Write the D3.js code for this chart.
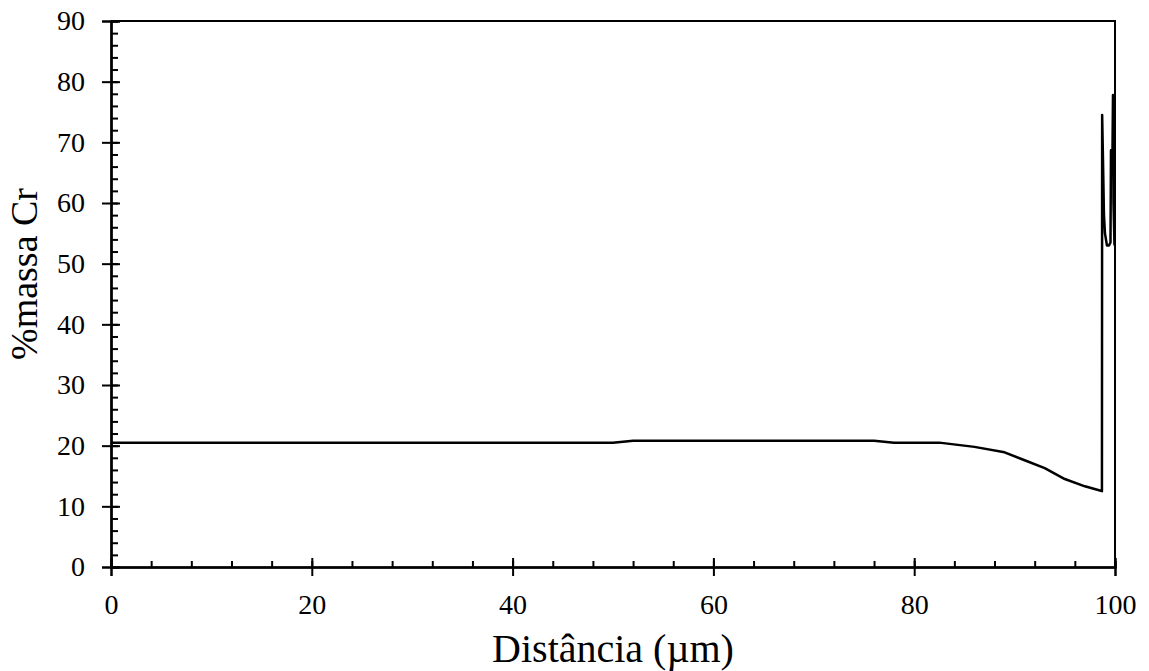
<!DOCTYPE html>
<html>
<head>
<meta charset="utf-8">
<script src="https://cdn.jsdelivr.net/npm/d3@7"></script>
<style>
	body { margin:0; background:#fff; }
</style>
</head>
<body>
<svg id="svg" width="1149" height="671"></svg>
<script>
// distance (um) and Cr mass %
const distancia = [0, 50, 52, 54, 76, 78, 82.5, 86, 89, 91, 93, 95, 97, 98.5, 98.7,
	98.72, 98.8, 98.9, 99.0, 99.2, 99.4, 99.55, 99.6, 99.75, 99.8, 99.85, 99.95];
const crMassa = [20.5, 20.5, 20.8, 20.8, 20.8, 20.5, 20.5, 19.8, 18.9, 17.6, 16.3, 14.5, 13.3, 12.6, 12.5,
	74.5, 67.5, 58, 55, 53, 53, 53.5, 68.7, 68.7, 77.8, 60, 53];
const xTicks = [0, 20, 40, 60, 80, 100];
const yTicks = [0, 10, 20, 30, 40, 50, 60, 70, 80, 90];

const dims = { width: 1149, height: 671 };
const margins = { left: 111, right: 34, top: 21, bottom: 104 };
const serif = '"Liberation Serif", "Times New Roman", serif';

let xScale = d3.scaleLinear().domain([0, 100]).range([margins.left, dims.width - margins.right]);
let yScale = d3.scaleLinear().domain([0, 90]).range([dims.height - margins.bottom, margins.top]);

let mySvg = d3.select('#svg');
const x0 = xScale(0), x1 = xScale(100), y0 = yScale(0), y1 = yScale(90);

// frame top and right
mySvg.append('path')
	.attr('d', `M${x0},${y1}H${x1}V${y0}`)
	.attr('fill', 'none').attr('stroke', '#000').attr('stroke-width', 2);

function styleAxis(g) {
	g.attr('font-family', serif).attr('font-size', 28);
	g.selectAll('path.domain').attr('stroke', '#000').attr('stroke-width', 2);
	g.selectAll('line').attr('stroke', '#000').attr('stroke-width', 2);
	g.selectAll('text').attr('fill', '#000');
}

// minor ticks (inward)
mySvg.append('g').attr('transform', `translate(0,${y0})`)
	.call(d3.axisBottom(xScale).tickValues(d3.range(0, 101, 4)).tickSize(-6).tickFormat(''))
	.call(styleAxis);
mySvg.append('g').attr('transform', `translate(${x0},0)`)
	.call(d3.axisLeft(yScale).tickValues(d3.range(0, 91, 2)).tickSize(-7).tickFormat(''))
	.call(styleAxis);

// major ticks inward part
mySvg.append('g').attr('transform', `translate(0,${y0})`)
	.call(d3.axisBottom(xScale).tickValues(xTicks).tickSize(-9).tickFormat(''))
	.call(styleAxis);
mySvg.append('g').attr('transform', `translate(${x0},0)`)
	.call(d3.axisLeft(yScale).tickValues(yTicks).tickSize(-9).tickFormat(''))
	.call(styleAxis);

// major ticks + labels
mySvg.append('g').attr('transform', `translate(0,${y0})`)
	.call(d3.axisBottom(xScale).tickValues(xTicks).tickSize(9).tickPadding(18).tickFormat(d3.format('d')))
	.call(styleAxis);

mySvg.append('g').attr('transform', `translate(${x0},0)`)
	.call(d3.axisLeft(yScale).tickValues(yTicks).tickSize(9).tickPadding(17).tickFormat(d3.format('d')))
	.call(styleAxis);

// line
mySvg.append('path')
	.datum(d3.zip(distancia, crMassa))
	.attr('d', d3.line().x(d => xScale(d[0])).y(d => yScale(d[1])))
	.attr('fill', 'none').attr('stroke', '#000').attr('stroke-width', 2.5)
	.attr('stroke-linejoin', 'round');

// titles
mySvg.append('text')
	.attr('x', (x0 + x1) / 2).attr('y', 662)
	.attr('text-anchor', 'middle').attr('font-family', serif).attr('font-size', 40)
	.text('Distância (µm)');
mySvg.append('text')
	.attr('transform', `translate(37,274) rotate(-90)`)
	.attr('text-anchor', 'middle').attr('font-family', serif).attr('font-size', 38)
	.text('%massa Cr');
</script>
</body>
</html>
